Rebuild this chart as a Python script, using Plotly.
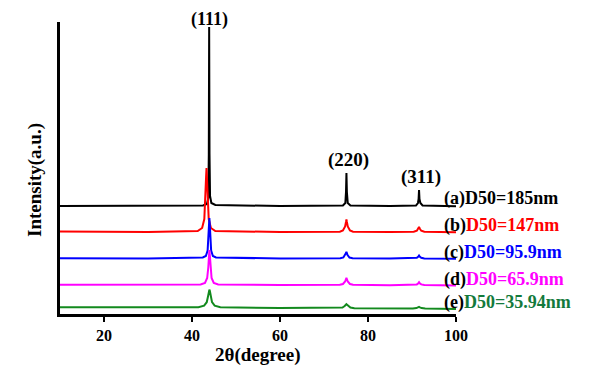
import plotly.graph_objects as go

# ---- data (2theta in degree, intensity in a.u., stacked with offsets) ----
x_a = [10, 30, 42.5, 43.4, 43.7, 43.82, 43.9, 43.98, 44.1, 44.4, 45.3, 60,
       74.3, 74.85, 75.0, 75.1, 75.2, 75.4, 76.0, 85,
       90.9, 91.35, 91.5, 91.6, 91.7, 91.9, 92.4, 100]
y_a = [108, 108, 108.5, 110, 116, 160, 287, 160, 118, 111, 109, 108,
       108.5, 111, 122, 141, 122, 111, 108.5, 108,
       108.5, 111, 115, 124, 115, 111, 108.5, 107.8]

x_b = [10, 30, 41.3, 42.3, 42.8, 43.05, 43.2, 43.3, 43.4, 43.55, 43.8, 44.3, 45.3, 60,
       73.6, 74.3, 74.8, 75.0, 75.1, 75.2, 75.4, 75.9, 76.6, 85,
       90.4, 91.1, 91.45, 91.6, 91.75, 92.1, 92.8, 100]
y_b = [82.5, 82, 83, 86, 95, 114, 137, 146, 137, 114, 95, 86, 83, 82,
       82.3, 83.5, 87.5, 92, 94.7, 92, 87.5, 83.5, 82.3, 82,
       82.2, 83.3, 85.5, 87, 85.5, 83.3, 82.2, 81.8]

x_c = [10, 30, 42.45, 43.15, 43.55, 43.75, 43.87, 43.95, 44.03, 44.15, 44.35, 44.75, 45.45, 60,
       73.7, 74.4, 74.85, 75.0, 75.1, 75.2, 75.35, 75.8, 76.5, 85,
       90.4, 91.1, 91.45, 91.6, 91.75, 92.1, 92.8, 100]
y_c = [55.8, 55.5, 56.5, 58, 63.5, 75.5, 90.5, 96, 90.5, 75.5, 63.5, 58, 56.5, 55.5,
       55.7, 56.5, 59, 61, 62.1, 61, 59, 56.5, 55.7, 55.5,
       55.6, 56.3, 57.5, 58.5, 57.5, 56.3, 55.6, 55.3]

x_d = [10, 30, 41.95, 42.95, 43.45, 43.7, 43.85, 43.95, 44.05, 44.2, 44.45, 44.95, 45.95, 60,
       73.6, 74.3, 74.8, 75.0, 75.1, 75.2, 75.4, 75.9, 76.6, 85,
       90.4, 91.1, 91.45, 91.6, 91.75, 92.1, 92.8, 100]
y_d = [29.2, 29, 29.5, 31, 36, 46.5, 59, 64, 59, 46.5, 36, 31, 29.5, 29,
       29.2, 30, 32.5, 35, 36, 35, 32.5, 30, 29.2, 28.8,
       28.9, 29.6, 30.8, 31.7, 30.8, 29.6, 28.9, 28.5]

x_e = [10, 30, 41.45, 42.75, 43.35, 43.65, 43.85, 43.95, 44.05, 44.25, 44.55, 45.15, 46.45, 60,
       73.3, 74.2, 74.7, 74.95, 75.1, 75.25, 75.5, 76.0, 76.9, 85,
       90.2, 91.0, 91.4, 91.6, 91.8, 92.2, 93.0, 100]
y_e = [6.8, 6.5, 6.8, 8.3, 11.8, 17.8, 23.3, 24.3, 23.3, 17.8, 11.8, 8.3, 6.8, 6.0,
       5.8, 6.5, 8.0, 9.3, 9.8, 9.3, 8.0, 6.5, 5.8, 5.4,
       5.4, 5.9, 6.7, 7.2, 6.7, 5.9, 5.4, 5.0]

series_x = [x_a, x_b, x_c, x_d, x_e]
series_y = [y_a, y_b, y_c, y_d, y_e]
line_colors = ["#000000", "#ff0000", "#0000ff", "#ff00ff", "#138a1e"]
text_colors = ["#000000", "#ff0000", "#0000ff", "#ff00ff", "#137a3c"]
letters = ["(a)", "(b)", "(c)", "(d)", "(e)"]
sizes = ["D50=185nm", "D50=147nm", "D50=95.9nm", "D50=65.9nm", "D50=35.94nm"]
label_y = [116, 89, 62, 35, 12]

peak_labels = ["(111)", "(220)", "(311)"]
peak_label_x = [43.9, 75.5, 92.05]
peak_label_y = [295, 154, 137]
peak_label_size = [18, 19, 19]

Y_MAX = 292
FONT = "Liberation Serif"

fig = go.Figure()
for xs, ys, c in zip(series_x, series_y, line_colors):
    fig.add_trace(go.Scatter(x=xs, y=ys, mode="lines",
                             line=dict(color=c, width=2), showlegend=False))

ann = []
for t, px, py, fs in zip(peak_labels, peak_label_x, peak_label_y, peak_label_size):
    ann.append(dict(x=px, y=py / Y_MAX, xref="x", yref="paper", text="<b>%s</b>" % t,
                    showarrow=False, font=dict(family=FONT, size=fs, color="black"),
                    xanchor="center", yanchor="middle"))
for l, s, ly, tc in zip(letters, sizes, label_y, text_colors):
    ann.append(dict(x=96.8, y=ly / Y_MAX, xref="x", yref="paper",
                    text="<b>%s<span style='color:%s'>%s</span></b>" % (l, tc, s),
                    showarrow=False, font=dict(family=FONT, size=18, color="black"),
                    xanchor="left", yanchor="middle"))
ann.append(dict(x=0, y=(314 - 180) / 292, xref="paper", yref="paper", xshift=-25,
                text="<b>Intensity(a.u.)</b>", textangle=-90, showarrow=False,
                font=dict(family=FONT, size=19, color="black"),
                xanchor="center", yanchor="middle"))
ann.append(dict(x=0.5, y=0, xref="paper", yref="paper", yshift=-41,
                text="<b>2θ(degree)</b>", showarrow=False,
                font=dict(family=FONT, size=19, color="black"),
                xanchor="center", yanchor="middle"))

fig.update_layout(
    width=598, height=369,
    margin=dict(l=52, r=150, t=14, b=63),
    paper_bgcolor="white", plot_bgcolor="white",
    annotations=ann,
    xaxis=dict(range=[10, 100], tickvals=[20, 40, 60, 80, 100],
               ticktext=["<b>20</b>", "<b>40</b>", "<b>60</b>", "<b>80</b>", "<b>100</b>"],
               showgrid=False, zeroline=False, showline=True, linecolor="black",
               linewidth=2.5, ticks="outside", ticklen=5, tickwidth=2,
               tickcolor="black", tickfont=dict(family=FONT, size=16, color="black")),
    yaxis=dict(range=[0, Y_MAX], showgrid=False, zeroline=False, showline=True,
               linecolor="black", linewidth=2.5, ticks="", showticklabels=False),
)

fig.write_html("out.html")
